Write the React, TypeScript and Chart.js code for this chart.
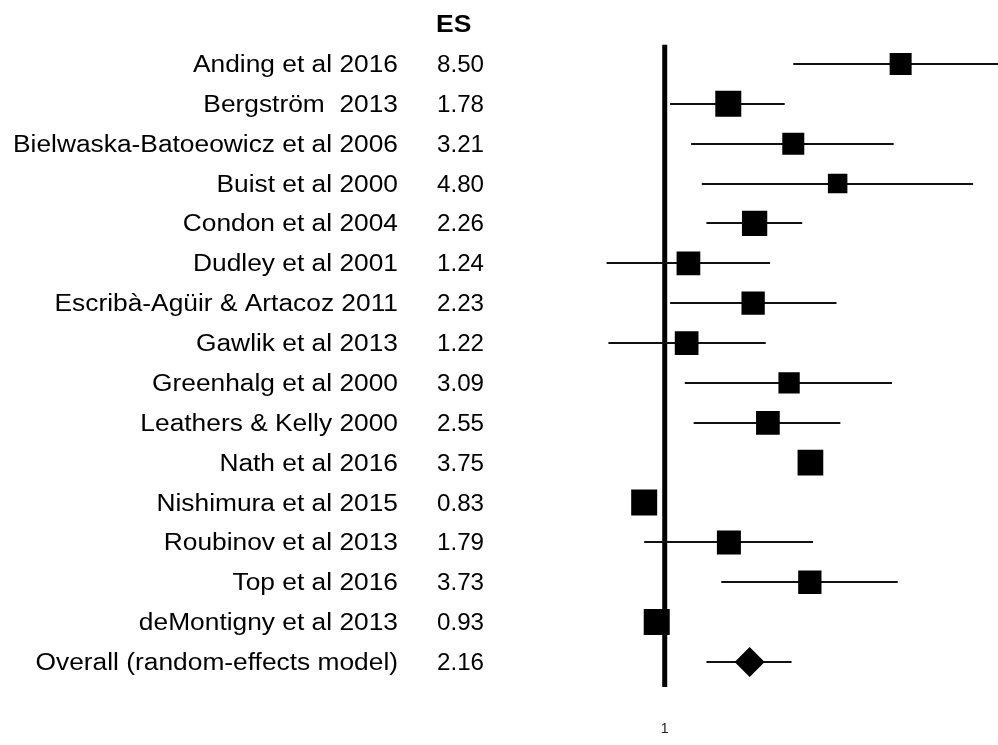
import React, { useEffect, useRef } from "react";
import { Chart, registerables } from "chart.js";

Chart.register(...registerables);

// ---------------- data ----------------
const studies = [
  "Anding et al 2016",
  "Bergström  2013",
  "Bielwaska-Batoeowicz et al 2006",
  "Buist et al 2000",
  "Condon et al 2004",
  "Dudley et al 2001",
  "Escribà-Agüir & Artacoz 2011",
  "Gawlik et al 2013",
  "Greenhalg et al 2000",
  "Leathers & Kelly 2000",
  "Nath et al 2016",
  "Nishimura et al 2015",
  "Roubinov et al 2013",
  "Top et al 2016",
  "deMontigny et al 2013",
];
const esValues = [8.5, 1.78, 3.21, 4.8, 2.26, 1.24, 2.23, 1.22, 3.09, 2.55, 3.75, 0.83, 1.79, 3.73, 0.93];
const ciLower = [3.21, 1.05, 1.27, 1.4, 1.46, 0.59, 1.05, 0.6, 1.2, 1.3, 3.45, 0.76, 0.83, 1.67, 0.86];
const ciUpper = [24.0, 2.97, 7.98, 16.4, 3.48, 2.6, 4.75, 2.5, 7.86, 4.92, 4.05, 0.9, 3.84, 8.28, 1.01];
// relative study weights, shown as box size
const weights = [22, 26, 22, 19.5, 25.3, 23.7, 23.3, 23.7, 21.3, 23.7, 25.7, 26, 24, 23.3, 26];

const overallLabel = "Overall (random-effects model)";
const overallES = 2.16;
const overallLower = 1.46;
const overallUpper = 3.16;

const esHeader = "ES";
const xTickValues = [1];

// ---------------- helpers ----------------
const FONT = '"Liberation Sans", Arial, sans-serif';

function drawStretched(
  ctx: CanvasRenderingContext2D,
  text: string,
  px: number,
  py: number,
  align: CanvasTextAlign,
  font: string,
  sx: number
) {
  ctx.save();
  ctx.translate(px, py);
  ctx.scale(sx, 1);
  ctx.font = font;
  ctx.fillStyle = "#000";
  ctx.textAlign = align;
  ctx.textBaseline = "alphabetic";
  ctx.fillText(text, 0, 0);
  ctx.restore();
}

const forestPlugin = {
  id: "forest",
  beforeDatasetsDraw(chart: any) {
    const { ctx, chartArea, scales } = chart;
    const x = scales.x;
    const y = scales.y;
    ctx.save();
    ctx.beginPath();
    ctx.rect(chartArea.left, chartArea.top, chartArea.right - chartArea.left, chartArea.bottom - chartArea.top);
    ctx.clip();

    // line of no effect
    const x1 = x.getPixelForValue(1);
    ctx.strokeStyle = "#000";
    ctx.lineWidth = 5;
    ctx.beginPath();
    ctx.moveTo(x1, y.getPixelForValue(-0.48));
    ctx.lineTo(x1, y.getPixelForValue(studies.length + 0.63));
    ctx.stroke();

    // confidence intervals
    ctx.lineWidth = 2;
    ctx.strokeStyle = "#111";
    const lows = [...ciLower, overallLower];
    const highs = [...ciUpper, overallUpper];
    for (let i = 0; i < lows.length; i++) {
      const py = Math.round(y.getPixelForValue(i));
      ctx.beginPath();
      ctx.moveTo(x.getPixelForValue(lows[i]), py);
      ctx.lineTo(x.getPixelForValue(highs[i]), py);
      ctx.stroke();
    }
    ctx.restore();
  },
  afterDraw(chart: any) {
    const { ctx, scales } = chart;
    const y = scales.y;
    const nameRight = 398;
    const valueLeft = 437;
    const labelFont = `23px ${FONT}`;
    drawStretched(ctx, esHeader, valueLeft - 1, y.getPixelForValue(-1) + 8, "left", `bold 23px ${FONT}`, 1.15);
    const names = [...studies, overallLabel];
    const vals = [...esValues, overallES];
    for (let i = 0; i < names.length; i++) {
      const py = y.getPixelForValue(i) + 8;
      drawStretched(ctx, names[i], nameRight, py, "right", labelFont, 1.145);
      drawStretched(ctx, vals[i].toFixed(2), valueLeft, py, "left", labelFont, 1.05);
    }
  },
};

export default function App() {
  const canvasRef = useRef<HTMLCanvasElement | null>(null);

  useEffect(() => {
    if (!canvasRef.current) return;
    const rows = studies.map((_, i) => i);
    const chart = new Chart(canvasRef.current, {
      type: "scatter",
      data: {
        datasets: [
          {
            label: "studies",
            data: esValues.map((v, i) => ({ x: v, y: rows[i] })),
            pointStyle: "rect",
            pointRadius: weights.map((w) => w / Math.SQRT2),
            pointHoverRadius: weights.map((w) => w / Math.SQRT2),
            backgroundColor: "#000",
            borderColor: "#000",
            borderWidth: 0,
          },
          {
            label: "overall",
            data: [{ x: overallES, y: studies.length }],
            pointStyle: "rectRot",
            pointRadius: 15,
            pointHoverRadius: 15,
            backgroundColor: "#000",
            borderColor: "#000",
            borderWidth: 0,
          },
        ],
      },
      options: {
        animation: false,
        responsive: false,
        events: [],
        layout: { autoPadding: false, padding: { left: 532, right: 0, top: 0, bottom: 4 } },
        plugins: {
          legend: { display: false },
          tooltip: { enabled: false },
          title: { display: false },
        },
        scales: {
          x: {
            type: "logarithmic",
            min: 0.332,
            max: 20.56,
            grid: { display: false, drawTicks: false },
            border: { display: false },
            afterBuildTicks: (scale: any) => {
              scale.ticks = xTickValues.map((v) => ({ value: v }));
            },
            ticks: {
              color: "#222",
              font: { family: FONT, size: 14 },
              padding: 3,
              maxRotation: 0,
              autoSkip: false,
              callback: (v: any) => String(v),
            },
          },
          y: {
            type: "linear",
            display: false,
            reverse: true,
            min: -1.605,
            max: 16.41,
          },
        },
      },
      plugins: [forestPlugin],
    });
    return () => chart.destroy();
  }, []);

  return (
    <div style={{ position: "absolute", left: 0, top: 0, width: 998, height: 745, background: "#fff" }}>
      <canvas ref={canvasRef} width={998} height={745} style={{ display: "block" }} />
    </div>
  );
}
